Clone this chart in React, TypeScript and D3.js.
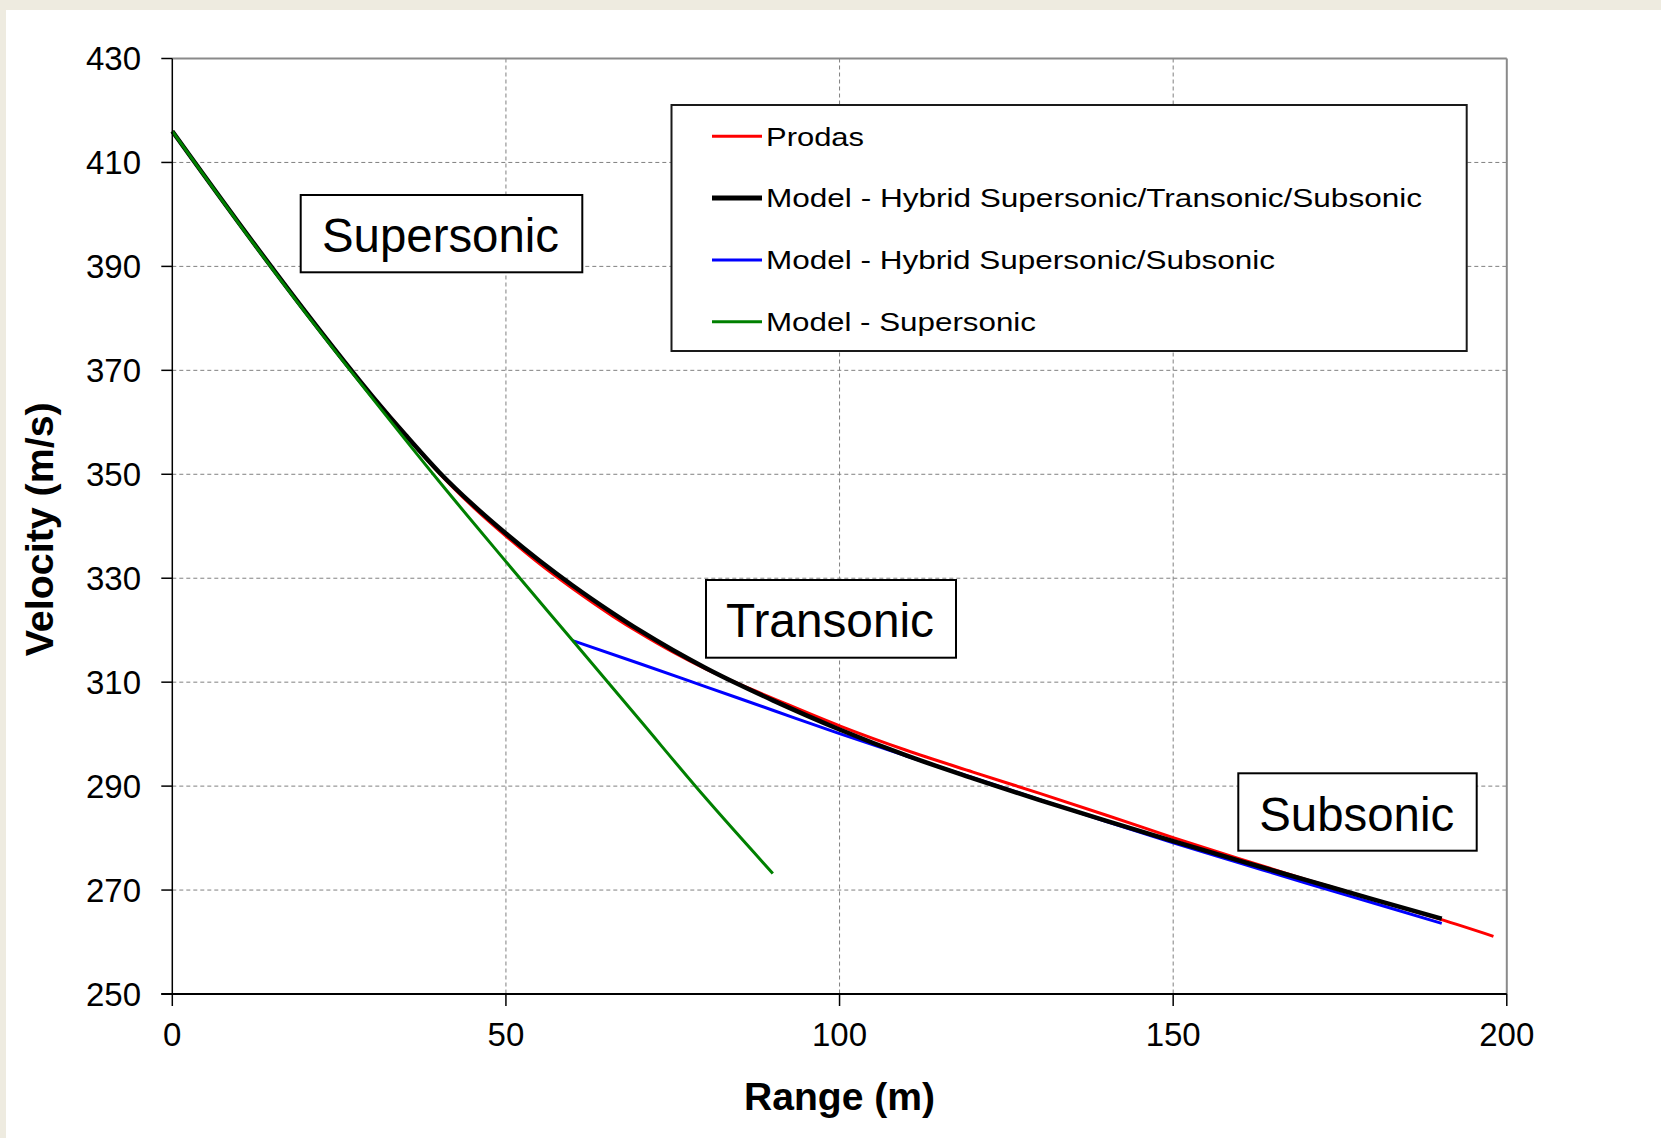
import React from 'react';
import * as d3 from 'd3';

// Velocity decay of a projectile versus range: reference code vs. three drag models.

const rangeTicks = [0, 50, 100, 150, 200];
const velocityTicks = [250, 270, 290, 310, 330, 350, 370, 390, 410, 430];

// Prodas reference trajectory
const prodasRange = [0, 10, 20, 30, 35, 40, 45, 50, 55, 60, 66, 70, 75, 80, 85, 90, 100, 110, 120, 130, 140, 150, 160, 170, 180, 190, 198];
const prodasVelocity = [416.0, 398.3, 381.2, 365.0, 357.5, 350.2, 343.8, 338.1, 332.8, 328.0, 322.7, 319.5, 315.8, 312.5, 309.6, 306.9, 301.6, 296.9, 292.7, 288.6, 284.4, 280.1, 276.0, 272.0, 268.2, 264.4, 261.1];

// Hybrid supersonic / transonic / subsonic model
const hybridSTSRange = [0, 10, 20, 30, 35, 40, 45, 50, 55, 60, 66, 70, 75, 80, 85, 90, 100, 110, 120, 130, 140, 150, 160, 170, 180, 190.25];
const hybridSTSVelocity = [416.0, 398.3, 381.2, 365.0, 357.5, 350.4, 344.2, 338.6, 333.4, 328.6, 323.3, 320.0, 316.2, 312.7, 309.5, 306.5, 300.9, 295.9, 291.5, 287.3, 283.3, 279.4, 275.6, 271.9, 268.2, 264.5];

// Hybrid supersonic / subsonic model (switches regime at 60 m)
const hybridSSRange = [60, 70, 80, 90, 100, 110, 120, 130, 140, 150, 160, 170, 180, 190.25];
const hybridSSVelocity = [318.0, 313.6, 309.1, 304.6, 300.1, 295.8, 291.6, 287.4, 283.2, 279.1, 275.2, 271.3, 267.5, 263.6];

// Pure supersonic model
const supersonicRange = [0, 10, 20, 30, 40, 50, 60, 70, 80, 90];
const supersonicVelocity = [416.0, 398.2, 381.0, 364.6, 348.6, 333.2, 318.0, 302.8, 287.6, 273.2];

const legendLabels = [
  'Prodas',
  'Model - Hybrid Supersonic/Transonic/Subsonic',
  'Model - Hybrid Supersonic/Subsonic',
  'Model - Supersonic',
];
const legendColors = ['#ff0000', '#000000', '#0000ff', '#008000'];
const legendStrokes = [3, 5, 3, 3];
const legendTextWidths = [98, 656, 509, 270];

const regimeLabels = ['Supersonic', 'Transonic', 'Subsonic'];

const FONT = '"Liberation Sans", Arial, Helvetica, sans-serif';

export default function App() {
  const W = 1661;
  const H = 1138;
  const x = d3.scaleLinear().domain([0, 200]).range([172.3, 1506.8]);
  const y = d3.scaleLinear().domain([250, 430]).range([994, 58.5]);
  const [x0, x1] = x.range();
  const [yb, yt] = y.range();

  const line = d3
    .line<[number, number]>()
    .x((d) => x(d[0]))
    .y((d) => y(d[1]))
    .curve(d3.curveMonotoneX);

  const zip = (a: number[], b: number[]) => a.map((v, i) => [v, b[i]] as [number, number]);

  const series = [
    { pts: zip(prodasRange, prodasVelocity), color: legendColors[0], w: 3 },
    { pts: zip(hybridSSRange, hybridSSVelocity), color: legendColors[2], w: 3 },
    { pts: zip(hybridSTSRange, hybridSTSVelocity), color: legendColors[1], w: 4.5 },
    { pts: zip(supersonicRange, supersonicVelocity), color: legendColors[3], w: 3 },
  ];

  // regime annotation boxes: [left, top, right, bottom, text centre x, baseline, text width]
  const regimeBoxes = [
    [300.7, 195, 582.3, 272.3, 440.5, 251.7, 237],
    [706, 580, 956, 657.7, 830, 636.7, 208],
    [1238.3, 773.3, 1476.7, 850.7, 1356.7, 830.7, 195],
  ];

  const legend = { l: 671.5, t: 105, r: 1466.7, b: 351, row0: 136.3, step: 61.8 };

  return (
    <svg
      width={W}
      height={H}
      viewBox={`0 0 ${W} ${H}`}
      style={{ position: 'absolute', left: 0, top: 0, display: 'block' }}
      fontFamily={FONT}
    >
      <rect x={0} y={0} width={W} height={H} fill="#eeebe0" />
      <rect x={6} y={10} width={W - 6} height={H - 10} fill="#ffffff" />

      {/* grid */}
      {velocityTicks
        .filter((v) => v > 250 && v < 430)
        .map((v) => (
          <line key={`gy${v}`} x1={x0} x2={x1} y1={y(v)} y2={y(v)} stroke="#808080" strokeWidth={1} strokeDasharray="4 3" />
        ))}
      {rangeTicks
        .filter((r) => r > 0 && r < 200)
        .map((r) => (
          <line key={`gx${r}`} x1={x(r)} x2={x(r)} y1={yt} y2={yb} stroke="#808080" strokeWidth={1} strokeDasharray="4 3" />
        ))}

      {/* plot frame */}
      <line x1={x0} x2={x1} y1={yt} y2={yt} stroke="#8a8a8a" strokeWidth={2} />
      <line x1={x1} x2={x1} y1={yt} y2={yb} stroke="#8a8a8a" strokeWidth={2} />

      {/* series */}
      {series.map((s, i) => (
        <path key={i} d={line(s.pts) || ''} fill="none" stroke={s.color} strokeWidth={s.w} strokeLinejoin="round" strokeLinecap="butt" />
      ))}

      {/* axes */}
      <line x1={x0} x2={x0} y1={yt} y2={yb} stroke="#000" strokeWidth={1.5} />
      <line x1={x0 - 11} x2={x1} y1={yb} y2={yb} stroke="#000" strokeWidth={2} />
      {velocityTicks.map((v) => (
        <g key={`ty${v}`}>
          <line x1={x0 - 11} x2={x0} y1={y(v)} y2={y(v)} stroke="#000" strokeWidth={1.5} />
          <text x={141} y={y(v)} dy="0.36em" textAnchor="end" fontSize={33} fill="#000">
            {v}
          </text>
        </g>
      ))}
      {rangeTicks.map((r) => (
        <g key={`tx${r}`}>
          <line x1={x(r)} x2={x(r)} y1={yb} y2={yb + 12} stroke="#000" strokeWidth={1.5} />
          <text x={x(r)} y={1046} textAnchor="middle" fontSize={33} fill="#000">
            {r}
          </text>
        </g>
      ))}

      {/* axis titles */}
      <text x={(x0 + x1) / 2} y={1110} textAnchor="middle" fontSize={39} fontWeight="bold" textLength={191} lengthAdjust="spacingAndGlyphs">
        Range (m)
      </text>
      <text
        transform={`translate(52.5, ${(yt + yb) / 2 + 3}) rotate(-90)`}
        textAnchor="middle"
        fontSize={39}
        fontWeight="bold"
        textLength={254}
        lengthAdjust="spacingAndGlyphs"
      >
        Velocity (m/s)
      </text>

      {/* legend */}
      <rect x={legend.l} y={legend.t} width={legend.r - legend.l} height={legend.b - legend.t} fill="#fff" stroke="#1a1a1a" strokeWidth={2} />
      {legendLabels.map((lab, i) => {
        const cy = legend.row0 + i * legend.step;
        return (
          <g key={lab}>
            <line x1={712} x2={762} y1={cy} y2={cy} stroke={legendColors[i]} strokeWidth={legendStrokes[i]} />
            <text x={766} y={cy} dy="0.36em" fontSize={26} fill="#000" textLength={legendTextWidths[i]} lengthAdjust="spacingAndGlyphs">
              {lab}
            </text>
          </g>
        );
      })}

      {/* flight regime labels */}
      {regimeBoxes.map((b, i) => (
        <g key={regimeLabels[i]}>
          <rect x={b[0]} y={b[1]} width={b[2] - b[0]} height={b[3] - b[1]} fill="#fff" stroke="#000" strokeWidth={2} />
          <text x={b[4]} y={b[5]} textAnchor="middle" fontSize={48} fill="#000" textLength={b[6]} lengthAdjust="spacingAndGlyphs">
            {regimeLabels[i]}
          </text>
        </g>
      ))}
    </svg>
  );
}
